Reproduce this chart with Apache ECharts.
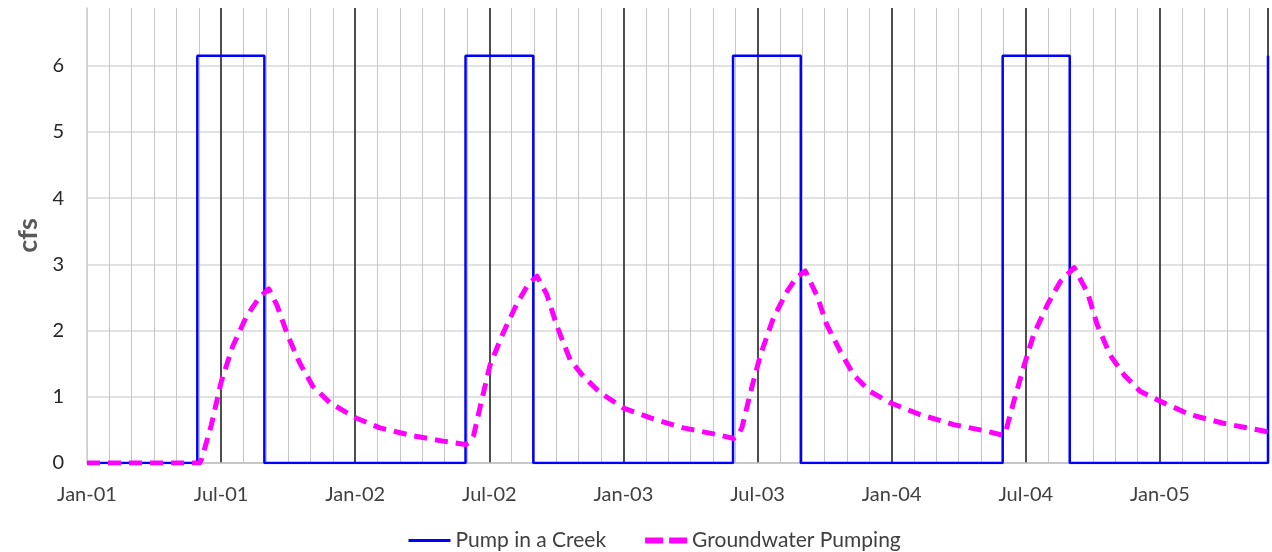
<!DOCTYPE html>
<html><head><meta charset="utf-8">
<script src="https://cdn.jsdelivr.net/npm/echarts@6/dist/echarts.min.js"></script>
<style>html,body{margin:0;padding:0;background:#fff}#c{width:1272px;height:552px}</style>
</head><body><div id="c"></div>
<script>
// ---- data ----
const xTickLabels = ['Jan-01','Jul-01','Jan-02','Jul-02','Jan-03','Jul-03','Jan-04','Jul-04','Jan-05'];
const axisStart = '2001-01-01';
const axisEnd = '2005-05-27';
const yMax = 6.87;
const seriesNames = ['Pump in a Creek', 'Groundwater Pumping'];

const pumpRate = 6.15;
const pumpOnDates  = ['2001-05-30','2002-05-30','2003-05-29','2004-05-31','2005-05-27'];
const pumpOffDates = ['2001-08-30','2002-08-31','2003-08-30','2004-08-31'];

const gwDates = [
  '2001-01-01','2001-06-02','2001-06-05','2001-06-18','2001-07-01','2001-07-17','2001-08-05','2001-08-23',
  '2001-09-05','2001-09-16','2001-10-01','2001-10-17','2001-11-04','2001-11-27','2002-01-02','2002-02-04',
  '2002-03-19','2002-04-29','2002-05-30',
  '2002-06-04','2002-06-10','2002-06-21','2002-07-02','2002-07-20','2002-08-08','2002-08-24','2002-09-05',
  '2002-09-18','2002-10-02','2002-10-20','2002-11-07','2002-11-30','2003-01-01','2003-02-07','2003-03-22',
  '2003-05-07','2003-05-30',
  '2003-06-04','2003-06-10','2003-06-23','2003-07-05','2003-07-23','2003-08-11','2003-08-24','2003-09-05',
  '2003-09-21','2003-10-04','2003-10-23','2003-11-10','2003-12-02','2003-12-30','2004-02-09','2004-03-25',
  '2004-05-09','2004-05-31',
  '2004-06-04','2004-06-15','2004-06-29','2004-07-12','2004-07-31','2004-08-18','2004-09-06','2004-09-24',
  '2004-10-07','2004-10-25','2004-11-13','2004-12-05','2005-01-02','2005-02-11','2005-03-27','2005-05-27'
];
const gwValues = [
  0, 0, 0.06, 0.58, 1.22, 1.76, 2.21, 2.50,
  2.63, 2.38, 1.91, 1.51, 1.16, 0.91, 0.68, 0.53,
  0.41, 0.33, 0.28,
  0.31, 0.42, 0.96, 1.48, 1.96, 2.40, 2.70, 2.82,
  2.55, 2.06, 1.56, 1.31, 1.06, 0.83, 0.68, 0.53,
  0.43, 0.37,
  0.41, 0.53, 1.13, 1.63, 2.19, 2.59, 2.80, 2.90,
  2.52, 2.09, 1.68, 1.33, 1.08, 0.91, 0.73, 0.58,
  0.48, 0.42,
  0.47, 0.93, 1.48, 1.94, 2.39, 2.74, 2.95, 2.57,
  2.09, 1.63, 1.33, 1.08, 0.93, 0.73, 0.60, 0.47
];

// ---- helpers ----
function toMonth(s) {
  const p = s.split('-').map(Number);
  const dim = new Date(Date.UTC(p[0], p[1], 0)).getUTCDate();
  return (p[0] - 2001) * 12 + (p[1] - 1) + (p[2] - 1) / dim;
}
const xMin = toMonth(axisStart);
const xMax = toMonth(axisEnd);

const pumpData = [[xMin, 0]];
pumpOnDates.forEach(function (d, i) {
  const on = toMonth(d);
  pumpData.push([on, 0], [on, pumpRate]);
  if (i < pumpOffDates.length) {
    const off = toMonth(pumpOffDates[i]);
    pumpData.push([off, pumpRate], [off, 0]);
  }
});
const gwData = gwDates.map(function (d, i) { return [toMonth(d), gwValues[i]]; });

const isInt = function (v) { return Math.abs(v - Math.round(v)) < 1e-6; };

const GRAY = '#c6c6c6', DARK = '#3a3a3a', HGRID = '#d9d9d9';
const monthLineColors = [];
for (let i = 0; i <= Math.ceil(xMax) + 1; i++) monthLineColors.push(i > 0 && i % 6 === 0 ? 'transparent' : GRAY);
const halfYearColors = [];
for (let i = 0; i <= Math.ceil(xMax / 6) + 1; i++) halfYearColors.push(i === 0 ? 'transparent' : DARK);
const yLineColors = [];
for (let i = 0; i <= Math.floor(yMax); i++) yLineColors.push(HGRID);
yLineColors.push('transparent');

const FONT = 'Lato';
const chart = echarts.init(document.getElementById('c'), null, { renderer: 'canvas' });
chart.setOption({
  animation: false,
  backgroundColor: '#ffffff',
  grid: { left: 87, right: 4, top: 8, bottom: 89, containLabel: false, outerBoundsMode: 'none' },
  xAxis: [
    {
      type: 'value', min: xMin, max: xMax, interval: 1,
      axisLine: { show: true, lineStyle: { color: '#c0c0c0', width: 1.5 } },
      axisTick: { show: false },
      axisLabel: {
        show: true, margin: 22, fontSize: 20, fontFamily: FONT, color: '#404040',
        formatter: function (v) { return (isInt(v) && Math.round(v) % 6 === 0) ? (xTickLabels[Math.round(v) / 6] || '') : ''; }
      },
      splitLine: { show: true, lineStyle: { color: monthLineColors, width: 1 } }
    },
    {
      type: 'value', min: xMin, max: xMax, interval: 6, position: 'top',
      axisLine: { show: false }, axisTick: { show: false }, axisLabel: { show: false },
      splitLine: { show: true, lineStyle: { color: halfYearColors, width: 1.8 } }
    }
  ],
  yAxis: {
    type: 'value', min: 0, max: yMax, interval: 1,
    name: 'cfs', nameLocation: 'middle', nameGap: 45,
    nameTextStyle: { fontSize: 27, fontWeight: 'bold', color: '#595959', fontFamily: FONT },
    axisLine: { show: true, lineStyle: { color: '#d0d0d0', width: 1.5 } },
    axisTick: { show: false },
    axisLabel: {
      margin: 23, fontSize: 20, fontFamily: FONT, color: '#262626',
      formatter: function (v) { return isInt(v) ? String(Math.round(v)) : ''; }
    },
    splitLine: { show: true, lineStyle: { color: yLineColors, width: 1.5 } }
  },
  legend: {
    data: [
      { name: seriesNames[0], lineStyle: { width: 3 } },
      { name: seriesNames[1], lineStyle: { width: 6, type: [18, 6] } }
    ],
    top: 525, left: 402,
    itemWidth: 42, itemHeight: 16, itemGap: 36,
    itemStyle: { opacity: 0 },
    textStyle: { fontSize: 21, fontFamily: FONT, color: '#404040' }
  },
  series: [
    {
      name: seriesNames[0], type: 'line', xAxisIndex: 0, data: pumpData,
      showSymbol: false, symbol: 'none', z: 3,
      lineStyle: { color: '#0000ff', width: 2.5 }, itemStyle: { color: '#0000ff' }
    },
    {
      name: seriesNames[1], type: 'line', xAxisIndex: 0, data: gwData,
      showSymbol: false, symbol: 'none', z: 4,
      lineStyle: { color: '#ff00ff', width: 5, type: [13, 8], cap: 'butt', join: 'round' },
      itemStyle: { color: '#ff00ff' }
    }
  ]
});
</script></body></html>
